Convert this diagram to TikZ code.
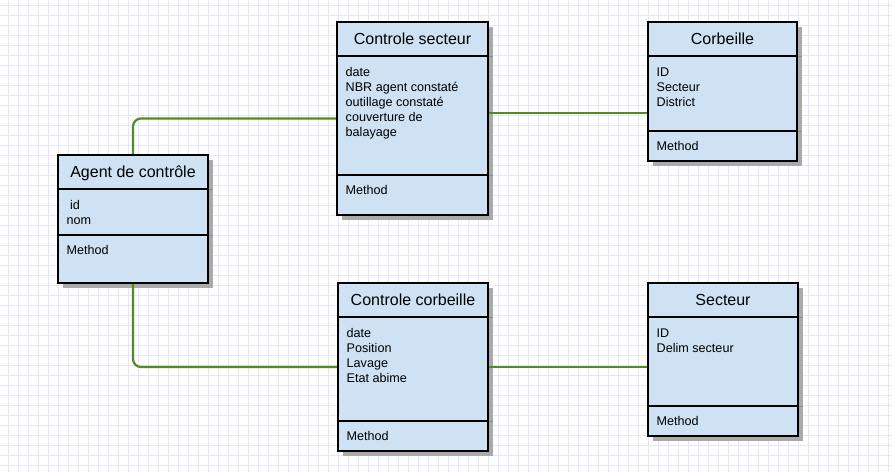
\documentclass[tikz,border=0pt]{standalone}
\usepackage{fontspec}
\setmainfont{Liberation Sans}
\usetikzlibrary{calc}
\pgfdeclarelayer{bg}
\pgfdeclarelayer{mid}
\pgfsetlayers{bg,mid,main}
\definecolor{gridc}{RGB}{230,230,250}
\definecolor{boxfill}{RGB}{207,226,243}
\definecolor{shadowc}{RGB}{170,170,170}
\definecolor{shadowline}{RGB}{140,140,140}
\definecolor{linkc}{RGB}{82,140,30}
\tikzset{
  classbox/.style={draw=black, line width=2.4pt, fill=boxfill, anchor=north west, inner sep=0pt, outer sep=0pt},
  divider/.style={draw=black, line width=2.4pt},
  shadowdiv/.style={draw=shadowline, line width=0.8pt},
  conn/.style={draw=linkc, line width=2.2pt, rounded corners=8pt},
  titletext/.style={font=\fontsize{16}{19}\selectfont, anchor=base, inner sep=0pt},
  attrtext/.style={font=\fontsize{12.6}{15}\selectfont, anchor=base west, inner sep=0pt},
  gridline/.style={draw=gridc, line width=0.9pt},
}
\newcommand{\attrlines}[1]{\vtop{\baselineskip=15pt\lineskiplimit=-20pt #1}}
% name, x, y, width, height, divider1, divider2, title, attributes
\newcommand{\umlclass}[9]{%
  \begin{pgfonlayer}{bg}
    \fill[shadowc] (#2+5,#3+5) rectangle ++(#4,#5);
    \draw[shadowdiv] (#2+#4,#3+#6) -- ++(5,0);
    \draw[shadowdiv] (#2+#4,#3+#7) -- ++(5,0);
  \end{pgfonlayer}
  \node[classbox, minimum width=#4pt, minimum height=#5pt] (#1) at (#2,#3) {};
  \draw[divider] (#1.north west) ++(0,#6) -- ++(#4,0);
  \draw[divider] (#1.north west) ++(0,#7) -- ++(#4,0);
  \path (#1.north) ++(0,{#6/2+5.5}) node[titletext] {#8};
  \path (#1.north west) ++(8.5,{#6+20}) node[attrtext] {\attrlines{#9}};
  \path (#1.north west) ++(8.5,{#7+19}) node[attrtext] {Method};
}
\begin{document}
\begin{tikzpicture}[x=1pt, y=-1pt]
  \useasboundingbox (0,0) rectangle (892,472);
  \begin{pgfonlayer}{bg}
    \fill[white] (0,0) rectangle (892,472);
    \foreach \x in {8,18,...,888} \draw[gridline] (\x,0) -- (\x,472);
    \foreach \y in {5,15,...,465} \draw[gridline] (0,\y) -- (892,\y);
  \end{pgfonlayer}

  \umlclass{agent}{58}{155}{150}{128}{34}{80}{Agent de contrôle}{\hbox{\hspace*{3.5pt}id}\hbox{nom}}
  \umlclass{cs}{337}{22}{151}{193}{34}{153}{Controle secteur}{\hbox{date}\hbox{NBR agent constaté}\hbox{outillage constaté}\hbox{couverture de}\hbox{balayage}}
  \umlclass{cb}{648}{22}{149}{139}{34}{109}{Corbeille}{\hbox{ID}\hbox{Secteur}\hbox{District}}
  \umlclass{cc}{338}{283}{150}{168}{34}{138}{Controle corbeille}{\hbox{date}\hbox{Position}\hbox{Lavage}\hbox{Etat abime}}
  \umlclass{sec}{648}{283}{150}{153}{34}{123}{Secteur}{\hbox{ID}\hbox{Delim secteur}}

  \coordinate (j1) at (0,113);
  \begin{pgfonlayer}{mid}
    \draw[conn] (agent.north) |- (cs.west);
    \draw[conn] (agent.south) |- (cc.west);
    \draw[conn] (cs.east |- j1) -- (cb.west |- j1);
    \draw[conn] (cc.east) -- (cc.east -| sec.west);
  \end{pgfonlayer}
\end{tikzpicture}
\end{document}
